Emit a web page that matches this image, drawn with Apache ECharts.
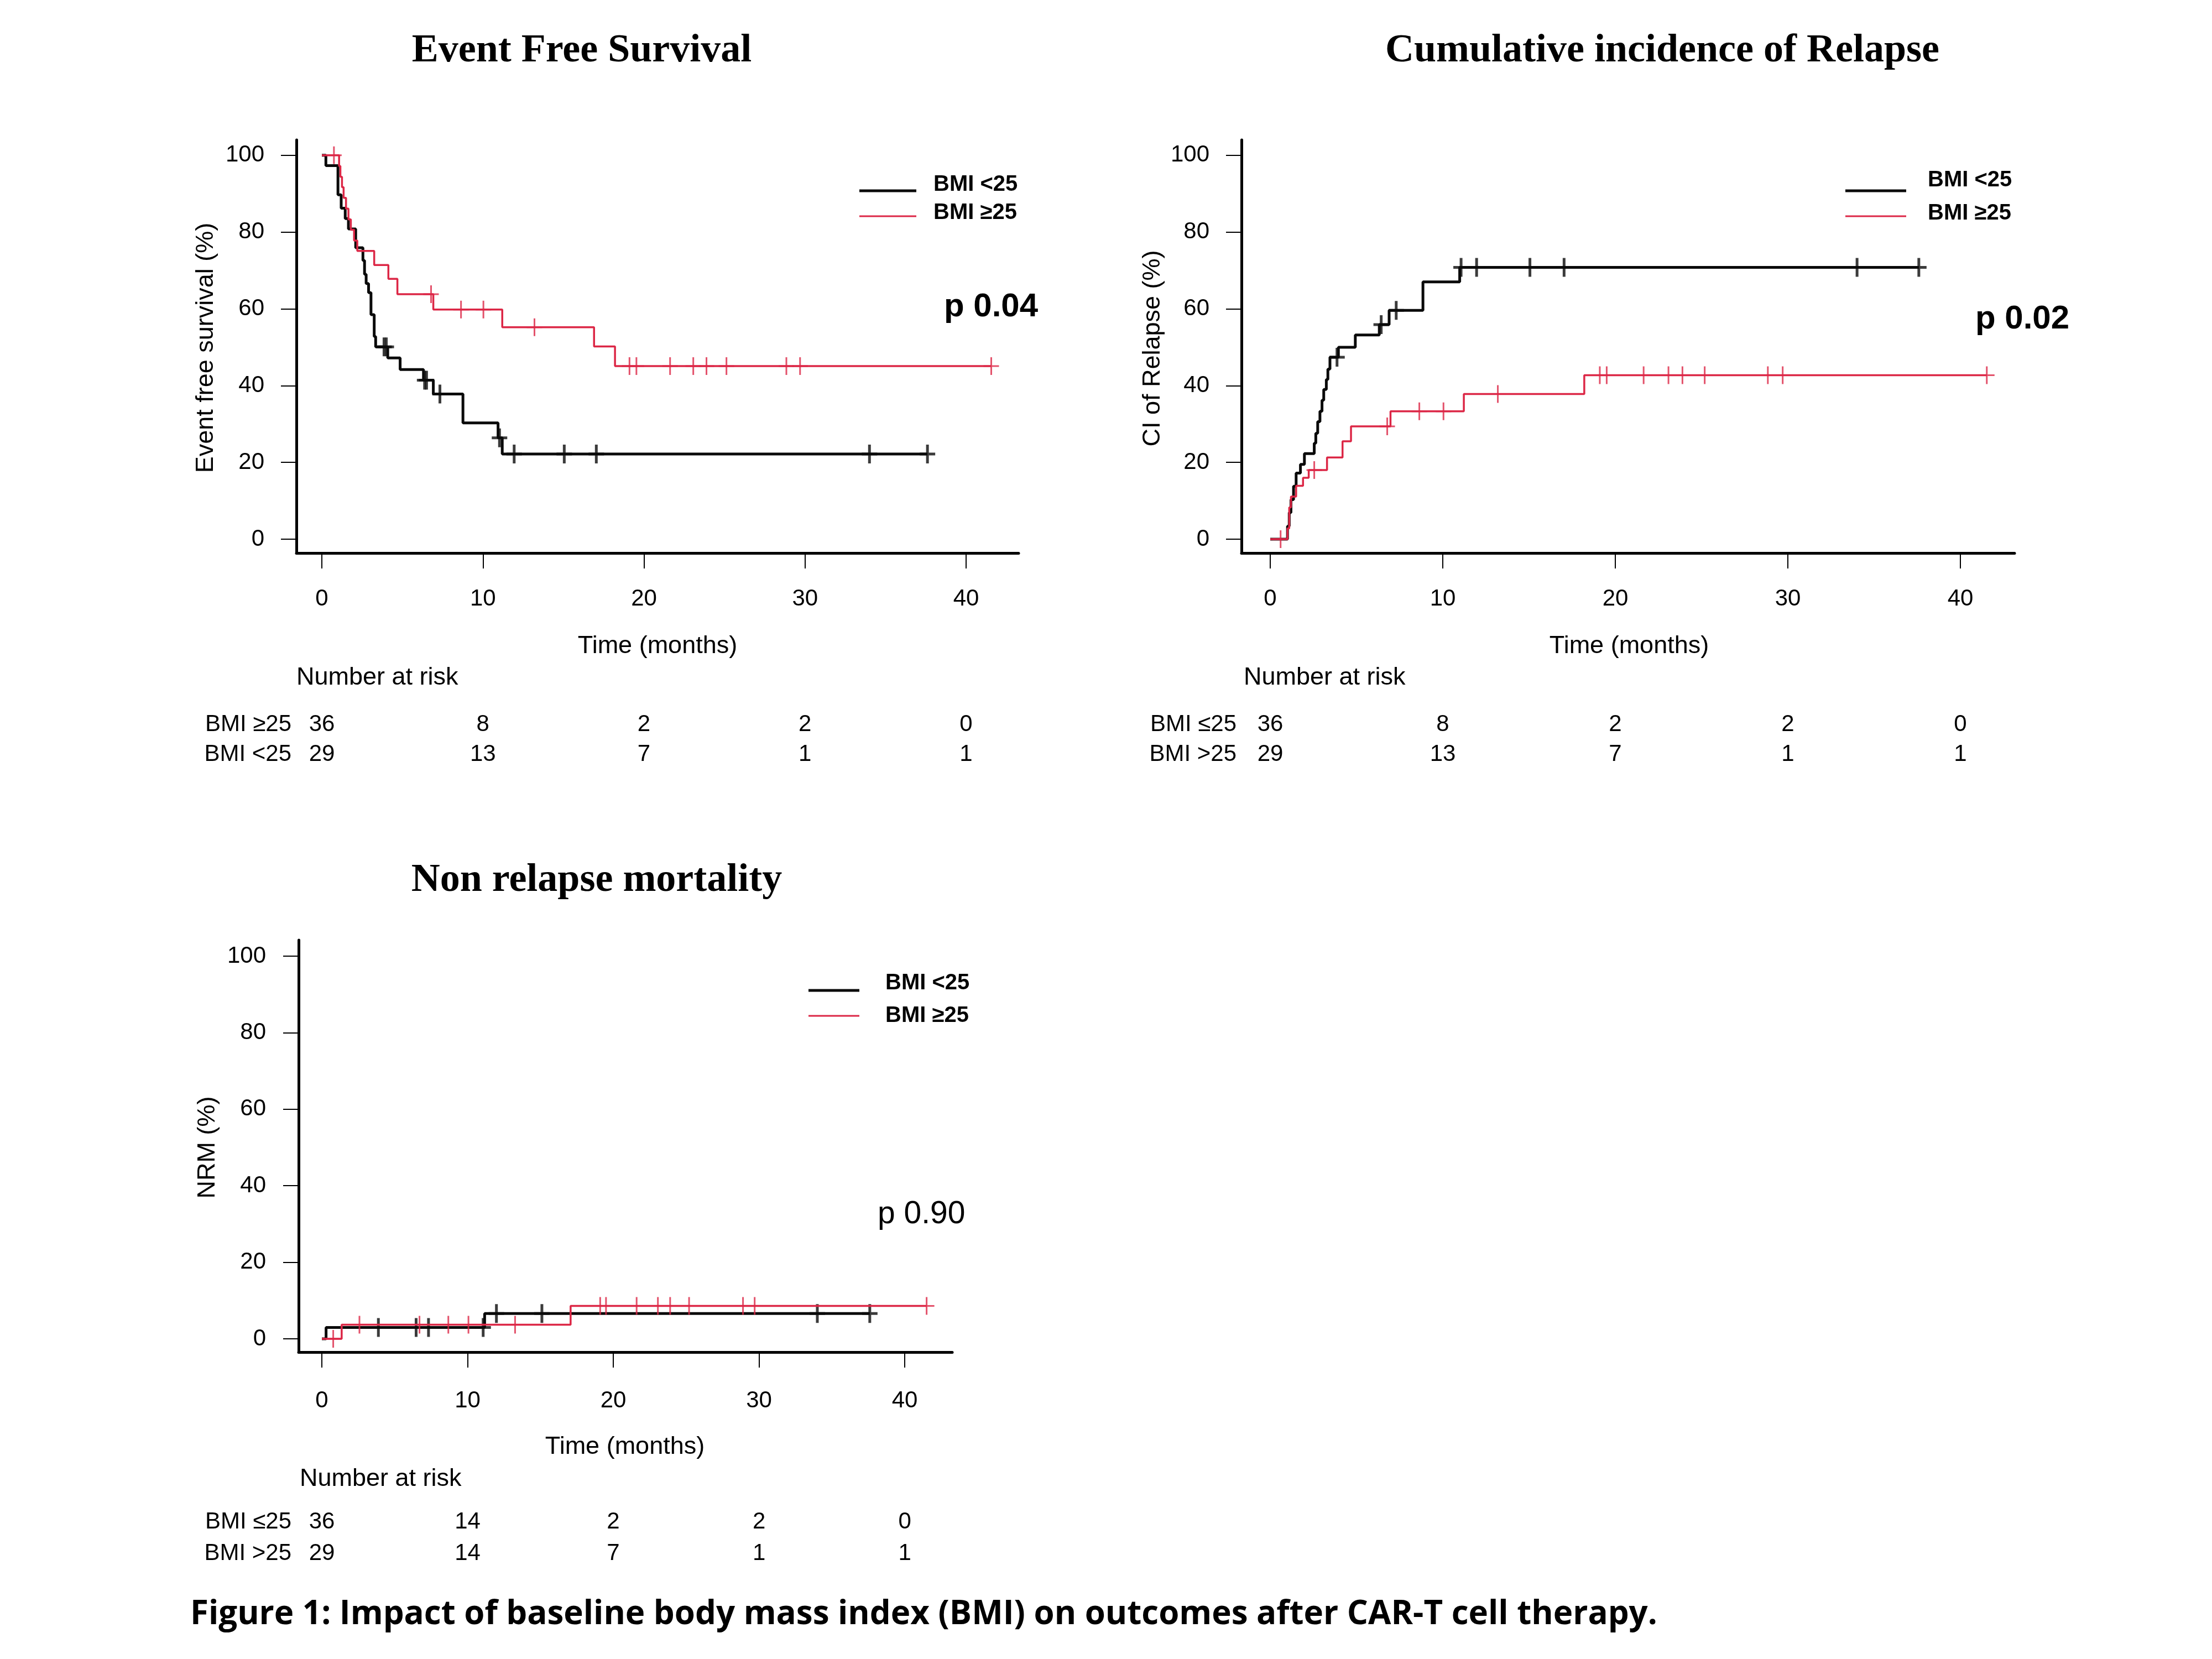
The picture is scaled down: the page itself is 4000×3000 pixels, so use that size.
<!DOCTYPE html>
<html><head><meta charset="utf-8">
<script src="https://cdn.jsdelivr.net/npm/echarts@6/dist/echarts.min.js"></script>
<style>html,body{margin:0;padding:0;background:#fff}#c{width:4000px;height:3000px}</style>
</head><body><div id="c"></div>
<script>
// ---------------- DATA ----------------
const xTicks = [0, 10, 20, 30, 40];
const yTicks = [0, 20, 40, 60, 80, 100];
const legendLabels = ['BMI <25', 'BMI \u226525'];

// Event free survival (%)
const efsLowT  = [0, 0.25, 1.0, 1.2, 1.45, 1.65, 2.1, 2.55, 2.65, 2.75, 2.9, 3.05, 3.25, 3.34, 4.09, 4.86, 6.31, 6.92, 8.76, 10.94, 11.2, 37.6];
const efsLowS  = [100, 97.3, 89.7, 86.2, 83.5, 80.8, 75.9, 72.6, 69.0, 66.6, 64.2, 58.5, 52.8, 50.1, 47.2, 44.2, 41.4, 37.8, 30.3, 26.4, 22.2, 22.2];
const efsHighT = [0, 1.07, 1.15, 1.25, 1.35, 1.5, 1.65, 1.8, 2.0, 2.2, 3.25, 4.13, 4.69, 6.92, 11.2, 16.9, 18.2, 41.56];
const efsHighS = [100, 97.2, 94.4, 91.7, 88.9, 86.1, 83.3, 80.6, 77.8, 75.1, 71.4, 67.8, 63.8, 59.8, 55.2, 50.2, 45.1, 45.1];
const efsLowCens  = [3.86, 4.0, 6.38, 6.5, 7.33, 11.03, 11.94, 15.05, 17.04, 34.0, 37.6];
const efsHighCens = [0.75, 6.78, 8.64, 10.03, 13.2, 19.1, 19.53, 21.62, 23.06, 23.88, 25.12, 28.84, 29.69, 41.56];

// Cumulative incidence of relapse (%)
const cirLowT  = [0, 1.0, 1.1, 1.2, 1.35, 1.5, 1.75, 1.98, 2.55, 2.64, 2.75, 2.88, 3.0, 3.1, 3.25, 3.34, 3.46, 3.95, 4.93, 6.32, 6.89, 8.85, 10.98, 37.6];
const cirLowS  = [0, 3.4, 6.9, 10.3, 13.8, 17.2, 19.5, 22.3, 25.0, 27.6, 30.6, 33.3, 36.2, 39.0, 41.6, 44.3, 47.4, 50.0, 53.2, 55.9, 59.6, 67.0, 70.8, 70.8];
const cirHighT = [0, 1.0, 1.1, 1.2, 1.5, 1.9, 2.23, 3.29, 4.19, 4.68, 6.97, 11.22, 18.2, 41.53];
const cirHighS = [0, 2.8, 8.3, 11.1, 13.9, 16.0, 18.0, 21.3, 25.5, 29.4, 33.3, 37.8, 42.7, 42.7];
const cirLowCens  = [3.87, 6.43, 7.30, 11.06, 11.96, 15.05, 17.03, 34.01, 37.59];
const cirHighCens = [0.6, 2.55, 6.78, 8.64, 10.04, 13.19, 19.1, 19.5, 21.64, 23.08, 23.89, 25.18, 28.84, 29.70, 41.53];

// Non relapse mortality (%)
const nrmLowT  = [0, 0.29, 11.17, 37.6];
const nrmLowS  = [0, 2.95, 6.6, 6.6];
const nrmHighT = [0, 1.36, 17.07, 41.5];
const nrmHighS = [0, 3.7, 8.6, 8.6];
const nrmLowCens  = [3.88, 6.47, 7.32, 11.07, 11.98, 15.1, 34.0, 37.6];
const nrmHighCens = [0.78, 2.58, 6.7, 8.68, 10.06, 13.26, 19.1, 19.5, 21.6, 23.06, 23.9, 25.2, 28.9, 29.7, 41.5];

// Numbers at risk
const riskTimes = [0, 10, 20, 30, 40];
const efsRiskRows = ['BMI \u226525', 'BMI <25'];
const efsRisk1 = [36, 8, 2, 2, 0];
const efsRisk2 = [29, 13, 7, 1, 1];
const cirRiskRows = ['BMI \u226425', 'BMI >25'];
const cirRisk1 = [36, 8, 2, 2, 0];
const cirRisk2 = [29, 13, 7, 1, 1];
const nrmRiskRows = ['BMI \u226425', 'BMI >25'];
const nrmRisk1 = [36, 14, 2, 2, 0];
const nrmRisk2 = [29, 14, 7, 1, 1];

const pValues = ['p 0.04', 'p 0.02', 'p 0.90'];
const titles = ['Event Free Survival', 'Cumulative incidence of Relapse', 'Non relapse mortality'];
const yTitles = ['Event free survival (%)', 'CI of Relapse (%)', 'NRM (%)'];
const xTitle = 'Time (months)';
const caption = 'Figure 1: Impact of baseline body mass index (BMI) on outcomes after CAR-T cell therapy.';

// ---------------- HELPERS ----------------
const BLACK = '#0a0a0a', RED = '#dc2746';
const SANS = '"Liberation Sans", Arial, sans-serif';
const SERIF = '"Liberation Serif", "Times New Roman", serif';
const pairs = (T, S) => T.map((t, i) => [t, S[i]]);
function stepAt(T, S, t) { let v = S[0]; for (let i = 0; i < T.length; i++) { if (T[i] <= t) v = S[i]; } return v; }
const cens = (T, S, C) => C.map(t => [t, stepAt(T, S, t)]);
const crossBlack = 'path://M11.5,0h5v34h-5zM0,14.5h28v5h-28z';
const crossRed = 'path://M12.5,0h3v32h-3zM0,14.5h28v3h-28z';

const plots = [
  {left: 536, top: 253, width: 1306, height: 747, xmin: -1.58, xmax: 43.26, ymin: -3.6, ymax: 104.0, xlm: 62, ylm: 58},
  {left: 2245, top: 253, width: 1398, height: 747, xmin: -1.667, xmax: 43.14, ymin: -3.6, ymax: 104.0, xlm: 62, ylm: 58},
  {left: 540, top: 1700, width: 1182, height: 745, xmin: -1.594, xmax: 43.26, ymin: -3.47, ymax: 104.19, xlm: 67, ylm: 59}
];
const riskGrids = [
  {left: 536, top: 1283, width: 1306, height: 108, lm: 9, rows: efsRiskRows, r1: efsRisk1, r2: efsRisk2},
  {left: 2245, top: 1283, width: 1398, height: 108, lm: 9, rows: cirRiskRows, r1: cirRisk1, r2: cirRisk2},
  {left: 540, top: 2724, width: 1182, height: 114, lm: 13, rows: nrmRiskRows, r1: nrmRisk1, r2: nrmRisk2}
];
const curves = [
  {lo: [efsLowT, efsLowS, efsLowCens], hi: [efsHighT, efsHighS, efsHighCens]},
  {lo: [cirLowT, cirLowS, cirLowCens], hi: [cirHighT, cirHighS, cirHighCens]},
  {lo: [nrmLowT, nrmLowS, nrmLowCens], hi: [nrmHighT, nrmHighS, nrmHighCens]}
];

const grid = [], xAxis = [], yAxis = [], series = [];
const lblStyle = {fontSize: 42, fontFamily: SANS, color: '#000'};
plots.forEach((p, i) => {
  grid.push({left: p.left, top: p.top, width: p.width, height: p.height, containLabel: false});
  xAxis.push({type: 'value', gridIndex: i, min: p.xmin, max: p.xmax, position: 'bottom',
    axisLine: {show: true, onZero: false, lineStyle: {color: '#000', width: 5}},
    axisTick: {show: true, length: 28, lineStyle: {color: '#000', width: 2}, customValues: xTicks},
    axisLabel: Object.assign({customValues: xTicks, margin: p.xlm}, lblStyle),
    splitLine: {show: false}});
  yAxis.push({type: 'value', gridIndex: i, min: p.ymin, max: p.ymax, position: 'left',
    axisLine: {show: true, onZero: false, lineStyle: {color: '#000', width: 5}},
    axisTick: {show: true, length: 28, lineStyle: {color: '#000', width: 2}, customValues: yTicks},
    axisLabel: Object.assign({customValues: yTicks, margin: p.ylm}, lblStyle),
    splitLine: {show: false}});
  const c = curves[i];
  series.push({type: 'line', name: legendLabels[0], xAxisIndex: i, yAxisIndex: i, step: 'end', showSymbol: false, symbol: 'none',
    data: pairs(c.lo[0], c.lo[1]), lineStyle: {color: BLACK, width: 5}, z: 2, animation: false});
  series.push({type: 'line', name: legendLabels[1], xAxisIndex: i, yAxisIndex: i, step: 'end', showSymbol: false, symbol: 'none',
    data: pairs(c.hi[0], c.hi[1]), lineStyle: {color: RED, width: 3.5}, z: 3, animation: false});
  series.push({type: 'scatter', xAxisIndex: i, yAxisIndex: i, symbol: crossBlack, symbolSize: [28, 34],
    data: cens(c.lo[0], c.lo[1], c.lo[2]), itemStyle: {color: BLACK}, z: 2, animation: false});
  series.push({type: 'scatter', xAxisIndex: i, yAxisIndex: i, symbol: crossRed, symbolSize: [28, 32],
    data: cens(c.hi[0], c.hi[1], c.hi[2]), itemStyle: {color: RED}, z: 3, animation: false});
});
riskGrids.forEach((r, k) => {
  const gi = 3 + k, p = plots[k];
  grid.push({left: r.left, top: r.top, width: r.width, height: r.height});
  xAxis.push({type: 'value', gridIndex: gi, min: p.xmin, max: p.xmax, show: false});
  yAxis.push({type: 'category', gridIndex: gi, data: r.rows, inverse: true,
    axisLine: {show: false}, axisTick: {show: false}, splitLine: {show: false},
    axisLabel: Object.assign({margin: r.lm, interval: 0, hideOverlap: false}, lblStyle)});
  [r.r1, r.r2].forEach((vals, j) => {
    series.push({type: 'scatter', xAxisIndex: gi, yAxisIndex: gi, symbolSize: 1, itemStyle: {color: 'rgba(255,255,255,0)', opacity: 1},
      data: riskTimes.map((t, m) => [t, r.rows[j], vals[m]]),
      label: {show: true, position: 'inside', formatter: q => String(q.value[2]), fontSize: 42, fontFamily: SANS,
        color: '#000', textBorderWidth: 0, textShadowBlur: 0, opacity: 1},
      emphasis: {disabled: true},
      animation: false});
  });
});

function txt(x, y, text, font, align, extra) {
  return Object.assign({type: 'text', x: x, y: y, z: 10,
    style: {text: text, font: font, fill: '#000', align: align || 'center', verticalAlign: 'middle', textAlign: align || 'center', textVerticalAlign: 'middle'}}, extra || {});
}
function ln(x1, x2, y, color, w) {
  return {type: 'line', z: 10, shape: {x1: x1, y1: y, x2: x2, y2: y}, style: {stroke: color, lineWidth: w}};
}
const g = [];
// titles
g.push(txt(1052, 92, titles[0], 'bold 72px ' + SERIF));
g.push(txt(3006, 92, titles[1], 'bold 72px ' + SERIF));
g.push(txt(1079, 1592, titles[2], 'bold 72px ' + SERIF));
// y titles
g.push(txt(373, 629, yTitles[0], '45px ' + SANS, 'center', {rotation: Math.PI / 2}));
g.push(txt(2085, 630, yTitles[1], '45px ' + SANS, 'center', {rotation: Math.PI / 2}));
g.push(txt(376, 2075, yTitles[2], '45px ' + SANS, 'center', {rotation: Math.PI / 2}));
// x titles
g.push(txt(1189, 1169, xTitle, '45px ' + SANS));
g.push(txt(2946, 1169, xTitle, '45px ' + SANS));
g.push(txt(1130, 2617, xTitle, '45px ' + SANS));
// number at risk
g.push(txt(536, 1226, 'Number at risk', '45px ' + SANS, 'left'));
g.push(txt(2249, 1226, 'Number at risk', '45px ' + SANS, 'left'));
g.push(txt(542, 2675, 'Number at risk', '45px ' + SANS, 'left'));
// legends
g.push(ln(1554, 1657, 345, BLACK, 5), ln(1554, 1657, 391, RED, 3));
g.push(txt(1688, 334, legendLabels[0], 'bold 40px ' + SANS, 'left'), txt(1688, 385, legendLabels[1], 'bold 40px ' + SANS, 'left'));
g.push(ln(3337, 3447, 345, BLACK, 5), ln(3337, 3447, 391, RED, 3));
g.push(txt(3486, 326, legendLabels[0], 'bold 40px ' + SANS, 'left'), txt(3486, 386, legendLabels[1], 'bold 40px ' + SANS, 'left'));
g.push(ln(1462, 1554, 1791, BLACK, 5), ln(1462, 1554, 1837, RED, 3));
g.push(txt(1601, 1778, legendLabels[0], 'bold 40px ' + SANS, 'left'), txt(1601, 1837, legendLabels[1], 'bold 40px ' + SANS, 'left'));
// p values
g.push(txt(1707, 555, pValues[0], 'bold 60px ' + SANS, 'left'));
g.push(txt(3572, 577, pValues[1], 'bold 60px ' + SANS, 'left'));
g.push(txt(1587, 2196, pValues[2], '57px ' + SANS, 'left'));
// caption
g.push(txt(344, 2920, caption, 'bold 60px "Open Sans", ' + SANS, 'left'));

const chart = echarts.init(document.getElementById('c'), null, {renderer: 'canvas'});
chart.setOption({backgroundColor: '#fff', animation: false, grid, xAxis, yAxis, series, graphic: g});
</script></body></html>
